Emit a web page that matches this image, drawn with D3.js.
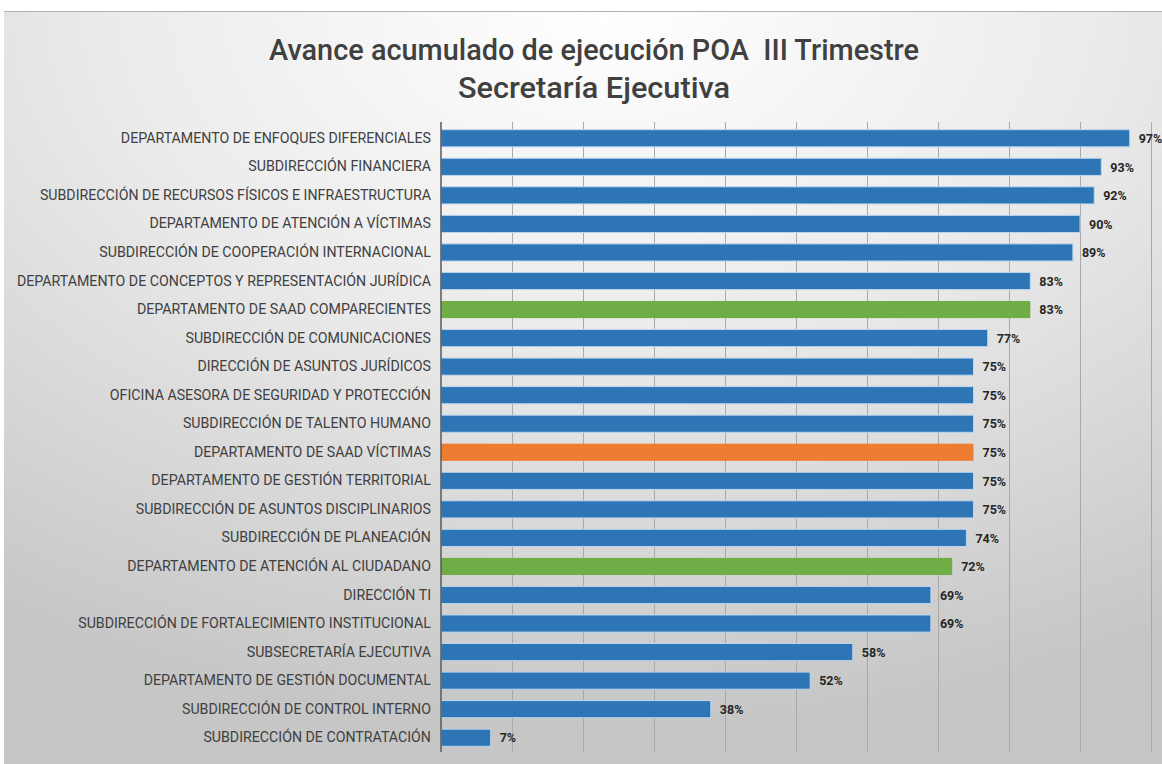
<!DOCTYPE html>
<html>
<head>
<meta charset="utf-8">
<script src="https://cdn.jsdelivr.net/npm/d3@7"></script>
<style>
  body { margin: 0; background: #fff; }
  svg { display: block; }
</style>
</head>
<body>
<div id="chart"></div>
<script>
// areas, top to bottom
var areas = [
  "DEPARTAMENTO DE ENFOQUES DIFERENCIALES",
  "SUBDIRECCIÓN FINANCIERA",
  "SUBDIRECCIÓN DE RECURSOS FÍSICOS E INFRAESTRUCTURA",
  "DEPARTAMENTO DE ATENCIÓN A VÍCTIMAS",
  "SUBDIRECCIÓN DE COOPERACIÓN INTERNACIONAL",
  "DEPARTAMENTO DE CONCEPTOS Y REPRESENTACIÓN JURÍDICA",
  "DEPARTAMENTO DE SAAD COMPARECIENTES",
  "SUBDIRECCIÓN DE COMUNICACIONES",
  "DIRECCIÓN DE ASUNTOS JURÍDICOS",
  "OFICINA ASESORA DE SEGURIDAD Y PROTECCIÓN",
  "SUBDIRECCIÓN DE TALENTO HUMANO",
  "DEPARTAMENTO DE SAAD VÍCTIMAS",
  "DEPARTAMENTO DE GESTIÓN TERRITORIAL",
  "SUBDIRECCIÓN DE ASUNTOS DISCIPLINARIOS",
  "SUBDIRECCIÓN DE PLANEACIÓN",
  "DEPARTAMENTO DE ATENCIÓN AL CIUDADANO",
  "DIRECCIÓN TI",
  "SUBDIRECCIÓN DE FORTALECIMIENTO INSTITUCIONAL",
  "SUBSECRETARÍA EJECUTIVA",
  "DEPARTAMENTO DE GESTIÓN DOCUMENTAL",
  "SUBDIRECCIÓN DE CONTROL INTERNO",
  "SUBDIRECCIÓN DE CONTRATACIÓN"
];

// avance (%)
var avance = [97, 93, 92, 90, 89, 83, 83, 77, 75, 75, 75, 75, 75, 75, 74, 72, 69, 69, 58, 52, 38, 7];

// colour group of every bar
var grupo = ["a","a","a","a","a","a","b","a","a","a","a","c","a","a","a","b","a","a","a","a","a","a"];

var gridValues = [10, 20, 30, 40, 50, 60, 70, 80, 90, 100];

var titleLines = ["Avance acumulado de ejecución POA  III Trimestre", "Secretaría Ejecutiva"];

var width = 1162, height = 764;

var data = areas.map(function(a, i) {
  return {area: a, value: avance[i], grupo: grupo[i]};
});

var svg = d3.select("#chart").append("svg")
  .attr("width", width)
  .attr("height", height);

// background of the slide
var defs = svg.append("defs");
var grad = defs.append("radialGradient")
  .attr("id", "bg")
  .attr("cx", "52%").attr("cy", "0%")
  .attr("r", "95%")
  .attr("fx", "52%").attr("fy", "0%");
grad.append("stop").attr("offset", "0%").attr("stop-color", "#ffffff");
grad.append("stop").attr("offset", "45%").attr("stop-color", "#ebebeb");
grad.append("stop").attr("offset", "100%").attr("stop-color", "#c6c6c6");

svg.append("rect")
  .attr("x", 4).attr("y", 11)
  .attr("width", width - 4).attr("height", height - 11)
  .attr("fill", "url(#bg)");
svg.append("line")
  .attr("x1", 4).attr("x2", width).attr("y1", 11.5).attr("y2", 11.5)
  .attr("stroke", "#b4b4b4");

// title
svg.selectAll(".title")
  .data(titleLines)
  .enter()
  .append("text")
  .attr("class", "title")
  .attr("x", 594)
  .attr("y", (d, i) => 60 + i * 38)
  .attr("text-anchor", "middle")
  .attr("textLength", (d, i) => i == 0 ? 650 : 272)
  .attr("lengthAdjust", "spacingAndGlyphs")
  .style("white-space", "pre")
  .style("font-family", "Roboto, 'Open Sans', sans-serif")
  .style("font-size", "30px")
  .style("font-weight", "500")
  .style("fill", "#404040")
  .text(d => d);

// scales
var x = d3.scaleLinear()
  .domain([0, 100])
  .range([441, 1151]);

var y = d3.scaleBand()
  .domain(areas)
  .range([124, 752])
  .paddingInner(0.4)
  .paddingOuter(0.2);

// gridlines
var grid = d3.axisTop(x)
  .tickValues(gridValues)
  .tickSize(-(752 - 122))
  .tickFormat("");

svg.append("g")
  .attr("transform", "translate(0,122)")
  .call(grid)
  .call(g => g.select(".domain").remove())
  .call(g => g.selectAll(".tick line").attr("stroke", "#a9a9a9").attr("stroke-width", 1));

// colours
var color = d3.scaleOrdinal()
  .domain(["a", "b", "c"])
  .range(["#2e75b6", "#70ad47", "#ed7d31"]);

// bars
svg.selectAll(".bar")
  .data(data)
  .enter()
  .append("rect")
  .attr("class", "bar")
  .attr("x", x(0))
  .attr("y", d => y(d.area))
  .attr("width", d => x(d.value) - x(0))
  .attr("height", y.bandwidth())
  .attr("fill", d => color(d.grupo))
  .attr("stroke", d => d.grupo == "a" ? "#bcd6ee" : "none")
  .attr("stroke-width", 1);

// value labels
svg.selectAll(".val")
  .data(data)
  .enter()
  .append("text")
  .attr("class", "val")
  .attr("x", d => x(d.value) + 9)
  .attr("y", d => y(d.area) + y.bandwidth() / 2)
  .attr("dy", "0.38em")
  .style("font-family", "Roboto, 'Open Sans', sans-serif")
  .style("font-size", "12.5px")
  .style("font-weight", "bold")
  .style("fill", "#262626")
  .text(d => d.value + "%");

// category axis
var yAxis = d3.axisLeft(y)
  .tickSize(0)
  .tickSizeOuter(0)
  .tickPadding(10);

svg.append("g")
  .attr("transform", "translate(" + x(0) + ",0)")
  .call(yAxis)
  .call(g => g.select(".domain").attr("stroke", "#595959").attr("stroke-width", 1.5)
    .attr("d", "M0,122V752"))
  .call(g => g.selectAll(".tick text")
    .style("font-family", "Roboto, 'Open Sans', sans-serif")
    .style("font-size", "14.2px")
    .style("fill", "#404040"));
</script>
</body>
</html>
